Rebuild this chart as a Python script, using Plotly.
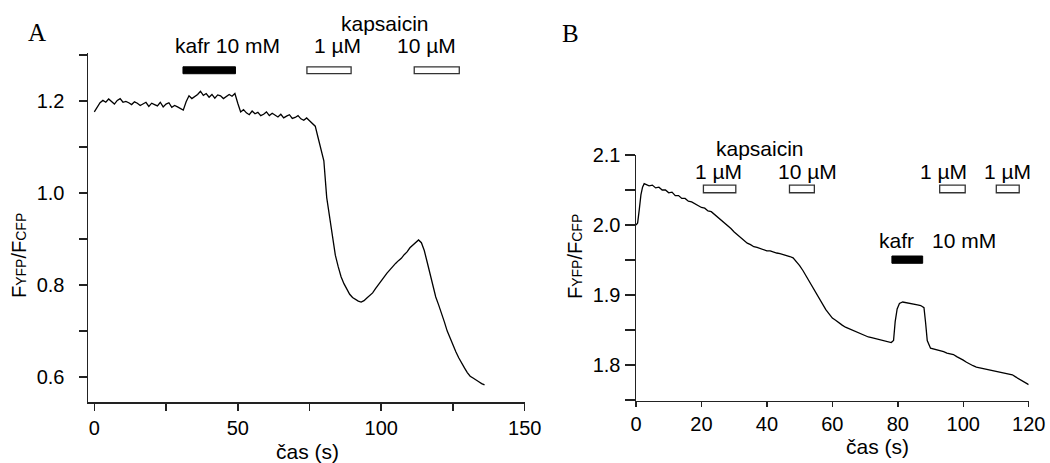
import plotly.graph_objects as go

# ---------------- data: panel A ----------------
time_a = list(range(0, 137))
ratio_a = [
    1.176, 1.187, 1.196, 1.201, 1.197, 1.204, 1.199, 1.193, 1.201, 1.205,
    1.197, 1.199, 1.196, 1.192, 1.198, 1.195, 1.190, 1.194, 1.197, 1.188,
    1.195, 1.192, 1.189, 1.197, 1.187, 1.193, 1.196, 1.186, 1.190, 1.187,
    1.183, 1.180, 1.198, 1.211, 1.205, 1.209, 1.214, 1.221, 1.212, 1.216,
    1.208, 1.214, 1.206, 1.213, 1.211, 1.205, 1.209, 1.214, 1.210, 1.216,
    1.195, 1.176, 1.181, 1.174, 1.170, 1.178, 1.172, 1.175, 1.168, 1.171,
    1.176, 1.168, 1.173, 1.169, 1.165, 1.171, 1.163, 1.167, 1.170, 1.162,
    1.164, 1.168, 1.161, 1.158, 1.163, 1.157, 1.152, 1.145, 1.120, 1.095,
    1.070, 0.990, 0.945, 0.905, 0.865, 0.840, 0.818, 0.803, 0.790, 0.780,
    0.773, 0.768, 0.765, 0.763, 0.766, 0.772, 0.778, 0.783, 0.792, 0.801,
    0.809, 0.818, 0.826, 0.833, 0.841, 0.847, 0.853, 0.858, 0.866, 0.872,
    0.881, 0.887, 0.893, 0.898, 0.892, 0.875, 0.850, 0.826, 0.800, 0.774,
    0.757, 0.740, 0.720, 0.700, 0.684, 0.668, 0.655, 0.642, 0.630, 0.620,
    0.610, 0.602, 0.598, 0.593, 0.590, 0.586, 0.583,
]

# drug application periods, panel A (s)
camphor_a = [(30.9, 49.2)]
capsaicin_a = [(74.1, 89.5), (111.5, 127.2)]

# ---------------- data: panel B ----------------
time_b = [0, 0.5, 1.0, 1.5, 2.0, 2.5] + list(range(3, 79)) + \
    [78.7, 79.2, 79.8, 80.5, 81.5, 83, 84, 85, 86, 87, 88, 88.5, 89] + list(range(90, 121))
ratio_b = [
    2.000, 2.003, 2.022, 2.043, 2.054, 2.059,
    2.058, 2.056, 2.057, 2.053, 2.054, 2.050, 2.050, 2.046, 2.047, 2.042,
    2.042, 2.038, 2.038, 2.034, 2.033, 2.030, 2.028, 2.025, 2.024, 2.020,
    2.019, 2.015, 2.012, 2.008, 2.004, 2.000, 1.995, 1.990, 1.986, 1.981,
    1.977, 1.974, 1.972, 1.969, 1.968, 1.966, 1.965, 1.963, 1.963, 1.961,
    1.960, 1.959, 1.958, 1.957, 1.955, 1.953, 1.948, 1.942, 1.935, 1.927,
    1.919, 1.911, 1.902, 1.893, 1.886, 1.879, 1.873, 1.867, 1.864, 1.860,
    1.857, 1.854, 1.852, 1.849, 1.847, 1.845, 1.843, 1.842, 1.840, 1.839,
    1.838, 1.837, 1.836, 1.835, 1.834, 1.832,
    1.835, 1.862, 1.880, 1.888, 1.890, 1.889, 1.888, 1.887, 1.886, 1.885, 1.882, 1.860, 1.835,
    1.824, 1.823, 1.821, 1.820, 1.819, 1.817, 1.816, 1.815, 1.812, 1.810,
    1.807, 1.804, 1.801, 1.799, 1.797, 1.796, 1.795, 1.794, 1.793, 1.792,
    1.792, 1.791, 1.790, 1.789, 1.788, 1.786, 1.783, 1.780, 1.777, 1.774,
    1.772,
]

capsaicin_b = [(20.6, 30.5), (46.9, 54.5), (92.8, 100.6), (110.1, 117.1)]
camphor_b = [(78.2, 87.6)]

# ---------------- figure ----------------
W, H = 1050, 463
SANS = "Arial, Liberation Sans, sans-serif"
SERIF = "Times New Roman, Liberation Serif, serif"


def px(x, y):
    return x / W, 1 - y / H


fig = go.Figure()
fig.add_trace(go.Scatter(x=time_a, y=ratio_a, mode="lines",
                         line=dict(color="black", width=1.3),
                         xaxis="x", yaxis="y", showlegend=False))
fig.add_trace(go.Scatter(x=time_b, y=ratio_b, mode="lines",
                         line=dict(color="black", width=1.3),
                         xaxis="x2", yaxis="y2", showlegend=False))

axis_common = dict(showgrid=False, zeroline=False, showline=True, automargin=False,
                   linecolor="#222", linewidth=1.5, ticks="outside",
                   tickcolor="#222", tickwidth=1.5,
                   tickfont=dict(family=SANS, size=20, color="black"))

fig.update_layout(
    width=W, height=H, autosize=False,
    margin=dict(l=0, r=0, t=0, b=0, autoexpand=False),
    paper_bgcolor="white", plot_bgcolor="white",
    xaxis=dict(domain=[88 / W, 524.7 / W], range=[-2.2, 150], anchor="y",
               tick0=0, dtick=50, ticklen=7,
               minor=dict(dtick=25, tick0=0, ticklen=7, ticks="outside",
                          tickcolor="#222", tickwidth=1.5),
               **axis_common),
    yaxis=dict(domain=[(H - 402) / H, (H - 53) / H], range=[0.546, 1.304], anchor="x",
               tick0=0.6, dtick=0.2, tickformat=".1f", ticklen=8,
               ticklabelstandoff=10,
               minor=dict(dtick=0.1, tick0=0.6, ticklen=8, ticks="outside",
                          tickcolor="#222", tickwidth=1.5),
               **axis_common),
    xaxis2=dict(domain=[636 / W, 1028.7 / W], range=[0, 120], anchor="y2",
                tick0=0, dtick=20, ticklen=5, **axis_common),
    yaxis2=dict(domain=[(H - 400.7) / H, (H - 155) / H], range=[1.749, 2.1], anchor="x2",
                tick0=1.8, dtick=0.1, tickformat=".1f", ticklen=10,
                minor=dict(dtick=0.05, tick0=1.8, ticklen=10, ticks="outside",
                           tickcolor="#222", tickwidth=1.5),
                **axis_common),
)

# application bars
shapes = []
for (t0, t1) in camphor_a:
    shapes.append(dict(type="rect", xref="x", yref="y", x0=t0, x1=t1, y0=1.259, y1=1.274,
                       fillcolor="black", line=dict(color="black", width=1)))
for (t0, t1) in capsaicin_a:
    shapes.append(dict(type="rect", xref="x", yref="y", x0=t0, x1=t1, y0=1.259, y1=1.274,
                       fillcolor="white", line=dict(color="#333", width=1.3)))
for (t0, t1) in capsaicin_b:
    shapes.append(dict(type="rect", xref="x2", yref="y2", x0=t0, x1=t1, y0=2.0461, y1=2.0571,
                       fillcolor="white", line=dict(color="#333", width=1.3)))
for (t0, t1) in camphor_b:
    shapes.append(dict(type="rect", xref="x2", yref="y2", x0=t0, x1=t1, y0=1.9453, y1=1.9557,
                       fillcolor="black", line=dict(color="black", width=1)))
fig.update_layout(shapes=shapes)


def label(text, x, y, size=21, family=SANS, angle=0):
    xp, yp = px(x, y)
    fig.add_annotation(text=text, x=xp, y=yp, xref="paper", yref="paper",
                       xanchor="center", yanchor="middle", showarrow=False,
                       textangle=angle, font=dict(family=family, size=size, color="black"))


label("A", 37, 33, size=25, family=SERIF)
label("B", 570, 34, size=25, family=SERIF)

label("kafr 10 mM", 227, 45)
label("kapsaicin", 385, 24)
label("1 µM", 337, 45)
label("10 µM", 426, 45)

label("kapsaicin", 760, 148)
label("1 µM", 718, 171)
label("10 µM", 807, 171)
label("1 µM", 943, 171)
label("1 µM", 1007, 171)
label("kafr", 896, 240)
label("10 mM", 964, 240)

ytitle = 'F<span style="font-size:14px">YFP</span>/F<span style="font-size:14px">CFP</span>'
label(ytitle, 19, 256, size=20, angle=-90)
label(ytitle, 575, 257, size=20, angle=-90)

label("čas (s)", 307, 451)
label("čas (s)", 877, 446)

fig.write_html("out.html",
               config={"displayModeBar": False, "staticPlot": True},
               post_script="document.body.style.margin='0px';document.body.style.overflow='hidden';")
